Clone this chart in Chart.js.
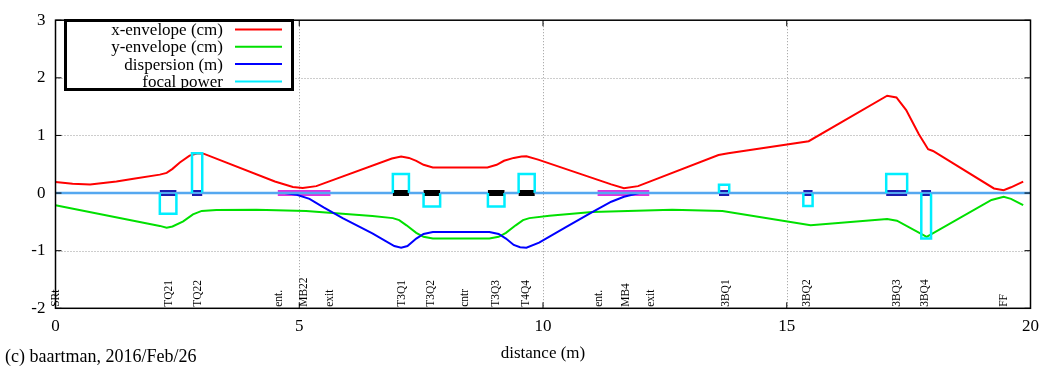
<!DOCTYPE html>
<html>
<head>
<meta charset="utf-8">
<script src="https://cdn.jsdelivr.net/npm/chart.js@4.4.1/dist/chart.umd.min.js"></script>
<style>
    html, body { margin: 0; padding: 0; background: #fff; }
    #wrap { width: 1047px; height: 369px; }
</style>
</head>
<body>
<div id="wrap"><canvas id="beamChart" width="1047" height="369"></canvas></div>
<script>
// x-envelope (cm)
const xEnvS = [0, 0.35, 0.71, 1.25, 1.6, 2.14, 2.28, 2.4, 2.55, 2.75, 2.92, 3.05, 4.5, 4.87, 5.07, 5.35,
    6.9, 7.09, 7.25, 7.4, 7.55, 7.74, 8.86, 9.05, 9.2, 9.4, 9.56, 9.66, 9.9, 11.4, 11.66, 11.95,
    13.6, 13.8, 15.45, 17.06, 17.25, 17.45, 17.6, 17.71, 17.9, 18.0, 19.25, 19.45, 19.6, 19.85];
const xEnvV = [0.19, 0.16, 0.15, 0.2, 0.25, 0.32, 0.35, 0.42, 0.53, 0.65, 0.69, 0.68, 0.2, 0.106, 0.09, 0.12,
    0.6, 0.635, 0.61, 0.56, 0.49, 0.445, 0.445, 0.49, 0.56, 0.61, 0.635, 0.64, 0.58, 0.15, 0.085, 0.12,
    0.66, 0.69, 0.9, 1.69, 1.66, 1.44, 1.2, 1.02, 0.76, 0.73, 0.08, 0.05, 0.1, 0.2];

// y-envelope (cm)
const yEnvS = [0, 2.14, 2.28, 2.4, 2.62, 2.82, 3.0, 3.3, 4.12, 5.14, 6.5, 6.92, 7.05, 7.2, 7.4, 7.55, 7.74,
    8.9, 9.09, 9.24, 9.44, 9.59, 9.72, 10.13, 11.01, 12.65, 13.68, 15.49, 17.06, 17.26, 17.87,
    19.2, 19.45, 19.6, 19.85];
const yEnvV = [-0.21, -0.57, -0.6, -0.58, -0.49, -0.37, -0.31, -0.295, -0.29, -0.31, -0.4, -0.435, -0.47, -0.56, -0.69, -0.76, -0.79,
    -0.79, -0.76, -0.69, -0.56, -0.47, -0.435, -0.395, -0.33, -0.29, -0.31, -0.56, -0.45, -0.48, -0.76,
    -0.12, -0.065, -0.1, -0.21];

// dispersion (m)
const dispS = [0, 4.7, 4.95, 5.21, 5.5, 5.89, 6.5, 6.95, 7.09, 7.22, 7.4, 7.55, 7.74, 8.9, 9.09, 9.24, 9.4,
    9.53, 9.66, 9.92, 10.47, 11.01, 11.4, 11.66, 11.97, 20];
const dispV = [0, 0, -0.03, -0.1, -0.25, -0.435, -0.7, -0.92, -0.95, -0.92, -0.79, -0.71, -0.675, -0.675, -0.71, -0.79, -0.9,
    -0.94, -0.95, -0.86, -0.59, -0.33, -0.15, -0.065, 0, 0];

// quadrupoles: start, end (m), focal power
const quadStart = [2.14, 2.80, 6.92, 7.55, 8.87, 9.50, 13.61, 15.34, 17.04, 17.76];
const quadEnd = [2.48, 3.01, 7.25, 7.89, 9.21, 9.83, 13.82, 15.53, 17.47, 17.96];
const quadK = [-0.36, 0.69, 0.33, -0.235, -0.235, 0.33, 0.145, -0.225, 0.33, -0.79];
const quadFamily = ['TQ', 'TQ', 'T3', 'T3', 'T3', 'T3', 'BQ', 'BQ', 'BQ', 'BQ'];

// bending magnets
const dipoleStart = [4.56, 11.12];
const dipoleEnd = [5.64, 12.18];

// element labels along the bottom
const markerNames = ['SRt', 'TQ21', 'TQ22', 'ent.', 'MB22', 'exit', 'T3Q1', 'T3Q2', 'cntr', 'T3Q3', 'T4Q4',
    'ent.', 'MB4', 'exit', '3BQ1', '3BQ2', '3BQ3', '3BQ4', 'FF'];
const markerPos = [0, 2.33, 2.92, 4.58, 5.09, 5.64, 7.11, 7.70, 8.39, 9.04, 9.65,
    11.15, 11.70, 12.21, 13.75, 15.42, 17.26, 17.84, 19.45];

const xMin = 0, xMax = 20, xStep = 5;
const yMin = -2, yMax = 3, yStep = 1;

const SERIF = '"Liberation Serif", "DejaVu Serif", serif';
const ZERO_COLOR = '#55a8f0';

function pairs(s, v) {
    return s.map((x, i) => ({ x: x, y: v[i] }));
}

// focal power as a step trace built from the quad table
const focalPts = [{ x: xMin, y: 0 }];
quadStart.forEach((s, i) => {
    focalPts.push({ x: s, y: 0 }, { x: s, y: quadK[i] }, { x: quadEnd[i], y: quadK[i] }, { x: quadEnd[i], y: 0 });
});
focalPts.push({ x: xMax, y: 0 });

function bars(starts, ends) {
    const pts = [];
    starts.forEach((s, i) => {
        pts.push({ x: s, y: 0 }, { x: ends[i], y: 0 }, { x: ends[i], y: null });
    });
    return pts;
}

const pick = fam => quadFamily.map((f, i) => f === fam ? i : -1).filter(i => i >= 0);
const blueIdx = pick('TQ').concat(pick('BQ'));
const blackIdx = pick('T3');

const zeroSeg = { borderColor: c => (c.p0.parsed.y === 0 && c.p1.parsed.y === 0) ? ZERO_COLOR : undefined };

const datasets = [
    { label: 'x-envelope (cm)', data: pairs(xEnvS, xEnvV), borderColor: '#ff0000', order: 4 },
    { label: 'y-envelope (cm)', data: pairs(yEnvS, yEnvV), borderColor: '#00e000', order: 3 },
    { label: 'dispersion (m)', data: pairs(dispS, dispV), borderColor: '#0000ff', order: 2, segment: zeroSeg },
    { label: 'focal power', data: focalPts, borderColor: '#00eeff', borderWidth: 2.5, order: 1, segment: zeroSeg },
    { data: bars(blueIdx.map(i => quadStart[i]), blueIdx.map(i => quadEnd[i])), borderColor: '#1c1cb0', borderWidth: 6, order: 6 },
    { data: bars(blackIdx.map(i => quadStart[i]), blackIdx.map(i => quadEnd[i])), borderColor: '#000000', borderWidth: 6, order: 6 },
    { data: bars(dipoleStart, dipoleEnd), borderColor: '#e030e0', borderWidth: 6, order: 6 }
];

// gnuplot-like frame, grid, legend and labels
const gnuplotLook = {
    id: 'gnuplotLook',
    beforeDatasetsDraw(chart) {
        const { ctx, chartArea: a, scales: { x, y } } = chart;
        ctx.save();
        ctx.strokeStyle = '#9a9a9a';
        ctx.lineWidth = 1;
        ctx.setLineDash([1, 2]);
        x.ticks.forEach(t => {
            if (t.value <= xMin || t.value >= xMax) return;
            const px = Math.round(x.getPixelForValue(t.value)) + 0.5;
            ctx.beginPath(); ctx.moveTo(px, a.top); ctx.lineTo(px, a.bottom); ctx.stroke();
        });
        y.ticks.forEach(t => {
            if (t.value <= yMin || t.value >= yMax) return;
            const py = Math.round(y.getPixelForValue(t.value)) + 0.5;
            ctx.beginPath(); ctx.moveTo(a.left, py); ctx.lineTo(a.right, py); ctx.stroke();
        });
        ctx.restore();
    },
    afterDraw(chart) {
        const { ctx, chartArea: a, scales: { x, y } } = chart;
        ctx.save();

        // frame and inward ticks
        ctx.strokeStyle = '#000';
        ctx.lineWidth = 1.5;
        ctx.strokeRect(a.left, a.top, a.right - a.left, a.bottom - a.top);
        ctx.lineWidth = 1;
        x.ticks.forEach(t => {
            const px = x.getPixelForValue(t.value);
            ctx.beginPath();
            ctx.moveTo(px, a.bottom); ctx.lineTo(px, a.bottom - 6);
            ctx.moveTo(px, a.top); ctx.lineTo(px, a.top + 6);
            ctx.stroke();
        });
        y.ticks.forEach(t => {
            const py = y.getPixelForValue(t.value);
            ctx.beginPath();
            ctx.moveTo(a.left, py); ctx.lineTo(a.left + 6, py);
            ctx.moveTo(a.right, py); ctx.lineTo(a.right - 6, py);
            ctx.stroke();
        });

        // element labels
        ctx.fillStyle = '#000';
        ctx.font = '11.5px ' + SERIF;
        ctx.textAlign = 'left';
        ctx.textBaseline = 'middle';
        markerNames.forEach((name, i) => {
            ctx.save();
            ctx.translate(x.getPixelForValue(markerPos[i]), a.bottom - 1.5);
            ctx.rotate(-Math.PI / 2);
            ctx.fillText(name, 0, 0);
            ctx.restore();
        });

        // legend box
        ctx.fillStyle = '#fff';
        ctx.fillRect(65.5, 20.5, 227, 69);
        ctx.strokeStyle = '#000';
        ctx.lineWidth = 3;
        ctx.strokeRect(65.5, 20.5, 227, 69);
        ctx.font = '17px ' + SERIF;
        ctx.textAlign = 'right';
        ctx.textBaseline = 'alphabetic';
        chart.data.datasets.filter(d => d.label).forEach((d, i) => {
            const ly = 29.5 + i * 17.3;
            ctx.fillStyle = '#000';
            ctx.fillText(d.label, 223, ly + 5.5);
            ctx.strokeStyle = d.borderColor;
            ctx.lineWidth = 2;
            ctx.beginPath(); ctx.moveTo(235, ly); ctx.lineTo(282, ly); ctx.stroke();
        });

        // axis title and credit line
        ctx.fillStyle = '#000';
        ctx.textAlign = 'center';
        ctx.font = '17px ' + SERIF;
        ctx.fillText('distance (m)', (a.left + a.right) / 2, 357.5);
        ctx.textAlign = 'left';
        ctx.font = '18px ' + SERIF;
        ctx.fillText('(c) baartman, 2016/Feb/26', 5, 362);
        ctx.restore();
    }
};

const tickFont = { family: SERIF, size: 17 };

new Chart(document.getElementById('beamChart'), {
    type: 'line',
    data: { datasets: datasets },
    options: {
        responsive: false,
        animation: false,
        devicePixelRatio: 1,
        layout: { autoPadding: false, padding: { left: 5.5, right: 15, top: 15.5, bottom: 0 } },
        elements: {
            point: { radius: 0 },
            line: { borderWidth: 2, tension: 0, fill: false }
        },
        plugins: { legend: { display: false }, tooltip: { enabled: false } },
        scales: {
            x: {
                type: 'linear', min: xMin, max: xMax,
                ticks: { stepSize: xStep, padding: 8, color: '#000', font: tickFont, maxRotation: 0 },
                grid: { display: false, drawTicks: false },
                border: { display: false },
                afterFit: s => { s.height = 60.7; }
            },
            y: {
                min: yMin, max: yMax,
                ticks: { stepSize: yStep, padding: 10, color: '#000', font: tickFont },
                grid: { display: false, drawTicks: false },
                border: { display: false },
                afterFit: s => { s.width = 50; }
            }
        }
    },
    plugins: [gnuplotLook]
});
</script>
</body>
</html>
